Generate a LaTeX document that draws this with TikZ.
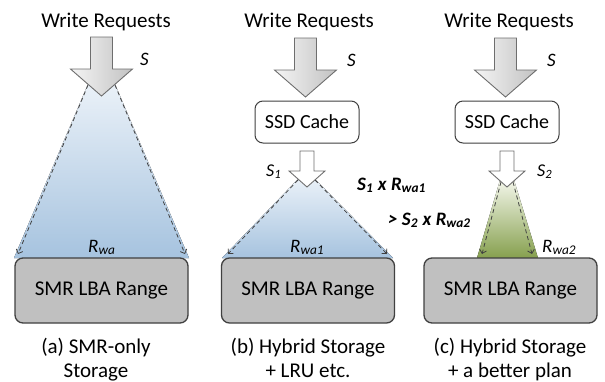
\documentclass[tikz,border=0pt]{standalone}
\usepackage{fontspec}
\setmainfont{Carlito}
\usetikzlibrary{arrows.meta}
\definecolor{edgegray}{HTML}{404040}
\definecolor{arrgray}{HTML}{6E6E6E}
\definecolor{boxgray}{HTML}{C0C0C0}
\definecolor{bluetop}{HTML}{EAF1F8}
\definecolor{bluebot}{HTML}{A6C3DF}
\definecolor{greentop}{HTML}{F3F6EA}
\definecolor{greenbot}{HTML}{86A04E}
\newcommand\mysub[2]{\textit{#1}\textsubscript{\textit{#2}}}
\newcommand\mybsub[2]{\textbf{\textit{#1}}\textsubscript{\textbf{\textit{#2}}}}
\tikzset{
  every node/.style={inner sep=0pt, font=\fontsize{21}{25}\selectfont},
  lbl/.style={anchor=base},
  lblw/.style={anchor=base west, font=\fontsize{19}{23}\selectfont},
  smalllbl/.style={anchor=base west, font=\fontsize{18}{22}\selectfont},
  cmplbl/.style={anchor=base west, font=\fontsize{19}{23}\selectfont},
  smrbox/.style={draw=edgegray, line width=1.3pt, fill=boxgray, rounded corners=8pt,
     minimum width=173pt, minimum height=65pt},
  ssdbox/.style={draw=edgegray, line width=1pt, fill=white, rounded corners=8pt,
     minimum width=104pt, minimum height=42pt, font=\fontsize{20}{24}\selectfont},
  bigarr/.style={draw=arrgray, line width=0.9pt, left color=black!4, right color=black!24},
  smallarr/.style={draw=arrgray, line width=0.9pt, fill=white},
  dashconn/.style={draw=edgegray, line width=0.8pt, dash pattern=on 4pt off 3pt,
     -{Straight Barb[length=3.5pt,width=7pt]}},
  bluefill/.style={top color=bluetop, bottom color=bluebot, draw=none},
  greenfill/.style={top color=greentop, bottom color=greenbot, draw=none},
  bigarrow/.pic={\path[bigarr] (-11,0) -- (11,0) -- (11,32) -- (31,32) -- (0,59) -- (-31,32) -- (-11,32) -- cycle;},
  smallarrow/.pic={\path[smallarr] (-7,0) -- (7,0) -- (7,20) -- (18,20) -- (0,36) -- (-18,20) -- (-7,20) -- cycle;}
}
\begin{document}
\begin{tikzpicture}[x=1pt,y=-1pt]
\useasboundingbox (0,0) rectangle (605,381);

% ---------- panel (a) ----------
\node[lbl] (wra) at (106,27) {Write Requests};
\fill[bluefill] (88,84) -- (115,84) -- (189,258) -- (14,258) -- cycle;
\coordinate (a1) at (88,85);
\coordinate (a2) at (115,85);
\coordinate (a3) at (18,254);
\coordinate (a4) at (185,254);
\draw[dashconn] (a1) -- (a3);
\draw[dashconn] (a2) -- (a4);
\pic at (101.5,37) {bigarrow};
\node[lblw] (sa) at (140,65) {\textit{S}};
\node[lblw] (rwa) at (88,252) {\mysub{R}{wa}};
\node[smrbox] (smra) at (101.5,290.5) {SMR LBA Range};
\node[lbl] (capa1) at (96,353) {(a) SMR-only};
\node[lbl] (capa2) at (96,377) {Storage};

% ---------- panel (b) ----------
\node[lbl] (wrb) at (309,27) {Write Requests};
\pic at (305.5,38) {bigarrow};
\node[lblw] (sb) at (347,66) {\textit{S}};
\node[ssdbox] (ssdb) at (307,122) {SSD Cache};
\fill[bluefill] (299,178) -- (314,178) -- (393,258) -- (222,258) -- cycle;
\coordinate (b1) at (298,180);
\coordinate (b2) at (315,180);
\coordinate (b3) at (228,254);
\coordinate (b4) at (387,254);
\draw[dashconn] (b1) -- (b3);
\draw[dashconn] (b2) -- (b4);
\pic at (307,151) {smallarrow};
\node[smalllbl] (s1) at (266,176) {\mysub{S}{1}};
\node[lblw] (rwa1) at (290,252) {\mysub{R}{wa1}};
\node[smrbox] (smrb) at (308,290.5) {SMR LBA Range};
\node[lbl] (capb1) at (308,353) {(b) Hybrid Storage};
\node[lbl] (capb2) at (308,377) {+ LRU etc.};

% ---------- comparison ----------
\node[cmplbl] (cmp1) at (357,190) {\mybsub{S}{1} \textbf{\textit{x}} \mybsub{R}{wa1}};
\node[cmplbl] (cmp2) at (388,225) {\textbf{\textit{>}} \mybsub{S}{2} \textbf{\textit{x}} \mybsub{R}{wa2}};

% ---------- panel (c) ----------
\node[lbl] (wrc) at (509,27) {Write Requests};
\pic at (505.5,38) {bigarrow};
\node[lblw] (sc) at (547,66) {\textit{S}};
\node[ssdbox] (ssdc) at (507,122) {SSD Cache};
\fill[greenfill] (500,180) -- (514,180) -- (538,258) -- (477,258) -- cycle;
\coordinate (c1) at (501,182);
\coordinate (c2) at (513,182);
\coordinate (c3) at (482,254);
\coordinate (c4) at (532,254);
\draw[dashconn] (c1) -- (c3);
\draw[dashconn] (c2) -- (c4);
\pic at (507,151) {smallarrow};
\node[smalllbl] (s2) at (537,176) {\mysub{S}{2}};
\node[lblw] (rwa2) at (542,252) {\mysub{R}{wa2}};
\node[smrbox] (smrc) at (510.5,290.5) {SMR LBA Range};
\node[lbl] (capc1) at (510,353) {(c) Hybrid Storage};
\node[lbl] (capc2) at (510,377) {+ a better plan};
\end{tikzpicture}
\end{document}
